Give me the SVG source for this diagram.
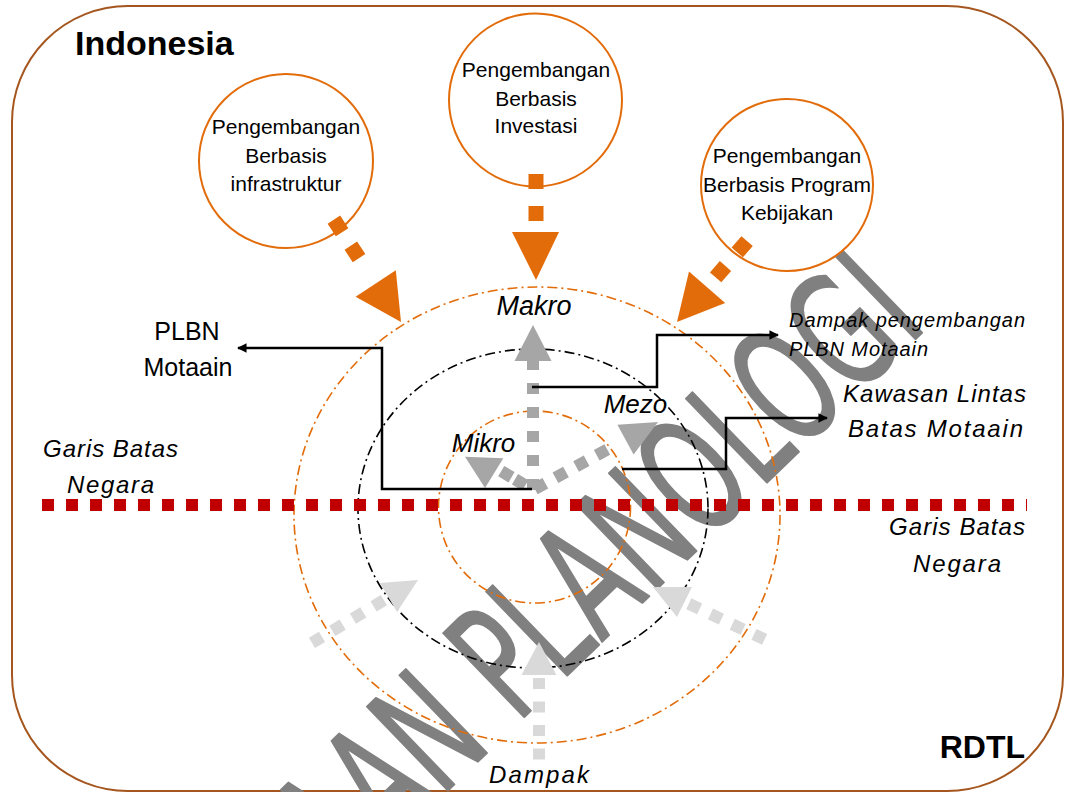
<svg xmlns="http://www.w3.org/2000/svg" width="1070" height="792" viewBox="0 0 1070 792">
<defs>
<style>
.t{font-family:"Liberation Sans",Arial,sans-serif;fill:#000}
.c{font-size:21px;text-anchor:middle}
.i{font-style:italic}
.b{font-weight:bold}
.oc{fill:#fff;stroke:#E36C0A;stroke-width:2}
.od{fill:none;stroke:#E36C0A;stroke-width:15}
.of{fill:#E36C0A}
.dd{fill:none;stroke-width:1.6;stroke-dasharray:10 4 2 4}
.con{fill:none;stroke:#000;stroke-width:2.5;marker-end:url(#ah)}
.g1{fill:none;stroke:#A6A6A6;stroke-width:12}
.g1f{fill:#A6A6A6}
.g2{fill:none;stroke:#D9D9D9;stroke-width:12}
.g2f{fill:#D9D9D9}
</style>
<marker id="ah" viewBox="0 0 10 10" refX="9" refY="5" markerWidth="4.4" markerHeight="3.8" orient="auto" markerUnits="strokeWidth">
<path d="M0,0 L10,5 L0,10 z" fill="#000"/>
</marker>
</defs>
<rect x="0" y="0" width="1070" height="792" fill="#fff"/>
<g id="frame">
<rect x="12" y="6" width="1051" height="785" rx="116" ry="116" fill="none" stroke="#A5561E" stroke-width="2"/>
</g>
<g id="watermark">
<text transform="translate(780,470) rotate(-44) scale(0.62,1)" x="335" y="0" text-anchor="end" font-family="DejaVu Sans, sans-serif" font-size="160" fill="#808080" stroke="#808080" stroke-width="2" stroke-linejoin="round">AAN PLANOLOGI</text>
</g>
<g id="labels-region">
<text class="t b" x="75" y="55" font-size="34">Indonesia</text>
<text class="t b" x="1025" y="758" font-size="32" text-anchor="end">RDTL</text>
</g>
<g id="zones">
<ellipse cx="537" cy="515" rx="243" ry="228" class="dd" stroke="#E36C0A"/>
<ellipse cx="533" cy="508.5" rx="175" ry="159.5" class="dd" stroke="#000"/>
<circle cx="534.5" cy="507" r="96" class="dd" stroke="#E36C0A"/>
</g>
<g id="border">
<line x1="42" y1="505" x2="1027" y2="505" stroke="#C00000" stroke-width="12" stroke-dasharray="12 12"/>
</g>
<g id="node-infrastruktur">
<circle cx="286" cy="161" r="87" class="oc"/>
<text class="t c" x="286" y="134">Pengembangan</text>
<text class="t c" x="286" y="163">Berbasis</text>
<text class="t c" x="286" y="191">infrastruktur</text>
</g>
<g id="node-investasi">
<circle cx="535.5" cy="100" r="86.5" class="oc"/>
<text class="t c" x="536" y="77">Pengembangan</text>
<text class="t c" x="536" y="106">Berbasis</text>
<text class="t c" x="536" y="133">Investasi</text>
</g>
<g id="node-kebijakan">
<circle cx="787" cy="185" r="86" class="oc"/>
<text class="t c" x="787" y="163">Pengembangan</text>
<text class="t c" x="787" y="192">Berbasis Program</text>
<text class="t c" x="787" y="220">Kebijakan</text>
</g>
<g id="connectors">
<line x1="333.9" y1="219.7" x2="359.1" y2="258.3" class="od" stroke-dasharray="15 16"/>
<polygon points="401,322 395.8,270.3 355.6,296.7" class="of"/>
<line x1="536" y1="174" x2="536" y2="222" class="od" stroke-dasharray="15 17"/>
<polygon points="512,232 559,232 536,280" class="of"/>
<line x1="747.1" y1="241.1" x2="715.6" y2="277.4" class="od" stroke-dasharray="15 18"/>
<polygon points="677,322 725.2,302.9 689,271.5" class="of"/>
<line x1="533" y1="490" x2="533" y2="361" class="g1" stroke-width="11" stroke-dasharray="11 13"/>
<polygon points="533,325 514.5,361 551.5,361" class="g1f"/>
<line x1="534.8" y1="489" x2="607.6" y2="449.4" class="g1" stroke-dasharray="12 11.5"/>
<polygon points="658,422 633.6,454.6 617.4,424.8" class="g1f"/>
<line x1="525.3" y1="485.4" x2="501.2" y2="471.1" class="g1" stroke-dasharray="12 4"/>
<polygon points="465,456.7 503.3,458.3 485,488" class="g1f"/>
<line x1="539" y1="678" x2="539" y2="760" class="g2" stroke-dasharray="11 12.5"/>
<polygon points="539,642 521.5,675 556.5,675" class="g2f"/>
<line x1="383.9" y1="600.2" x2="312" y2="642.9" class="g2" stroke-dasharray="12 12"/>
<polygon points="418,580 380,583 397,612" class="g2f"/>
<line x1="688.8" y1="603.8" x2="764.6" y2="639.4" class="g2" stroke-dasharray="12 12"/>
<polygon points="653,587 692,587 677,617" class="g2f"/>
<path d="M532,489 H382 V348 H238" class="con"/>
<path d="M532,387 H657 V335 H778" class="con"/>
<path d="M622,469 H726 V418 H827" class="con"/>
</g>
<g id="texts">
<text class="t i" x="534" y="315" font-size="27" text-anchor="middle">Makro</text>
<text class="t i" x="635.5" y="413" font-size="26" text-anchor="middle">Mezo</text>
<text class="t i" x="483.5" y="452" font-size="26" text-anchor="middle">Mikro</text>
<text class="t" x="187" y="340" font-size="25" text-anchor="middle">PLBN</text>
<text class="t" x="188" y="376" font-size="25" text-anchor="middle">Motaain</text>
<text class="t i" x="789" y="327" font-size="20" textLength="236">Dampak pengembangan</text>
<text class="t i" x="789" y="356" font-size="20" textLength="139">PLBN Motaain</text>
<text class="t i" x="934.5" y="402" font-size="24" text-anchor="middle" textLength="183">Kawasan Lintas</text>
<text class="t i" x="935.5" y="437" font-size="24" text-anchor="middle" textLength="175">Batas Motaain</text>
<text class="t i" x="110.5" y="457" font-size="24" text-anchor="middle" textLength="135">Garis Batas</text>
<text class="t i" x="110.5" y="493" font-size="24" text-anchor="middle" textLength="87">Negara</text>
<text class="t i" x="957" y="535" font-size="24" text-anchor="middle" textLength="136">Garis Batas</text>
<text class="t i" x="957" y="572" font-size="24" text-anchor="middle" textLength="88">Negara</text>
<text class="t i" x="539" y="783" font-size="24" text-anchor="middle" textLength="100">Dampak</text>
</g>
</svg>
